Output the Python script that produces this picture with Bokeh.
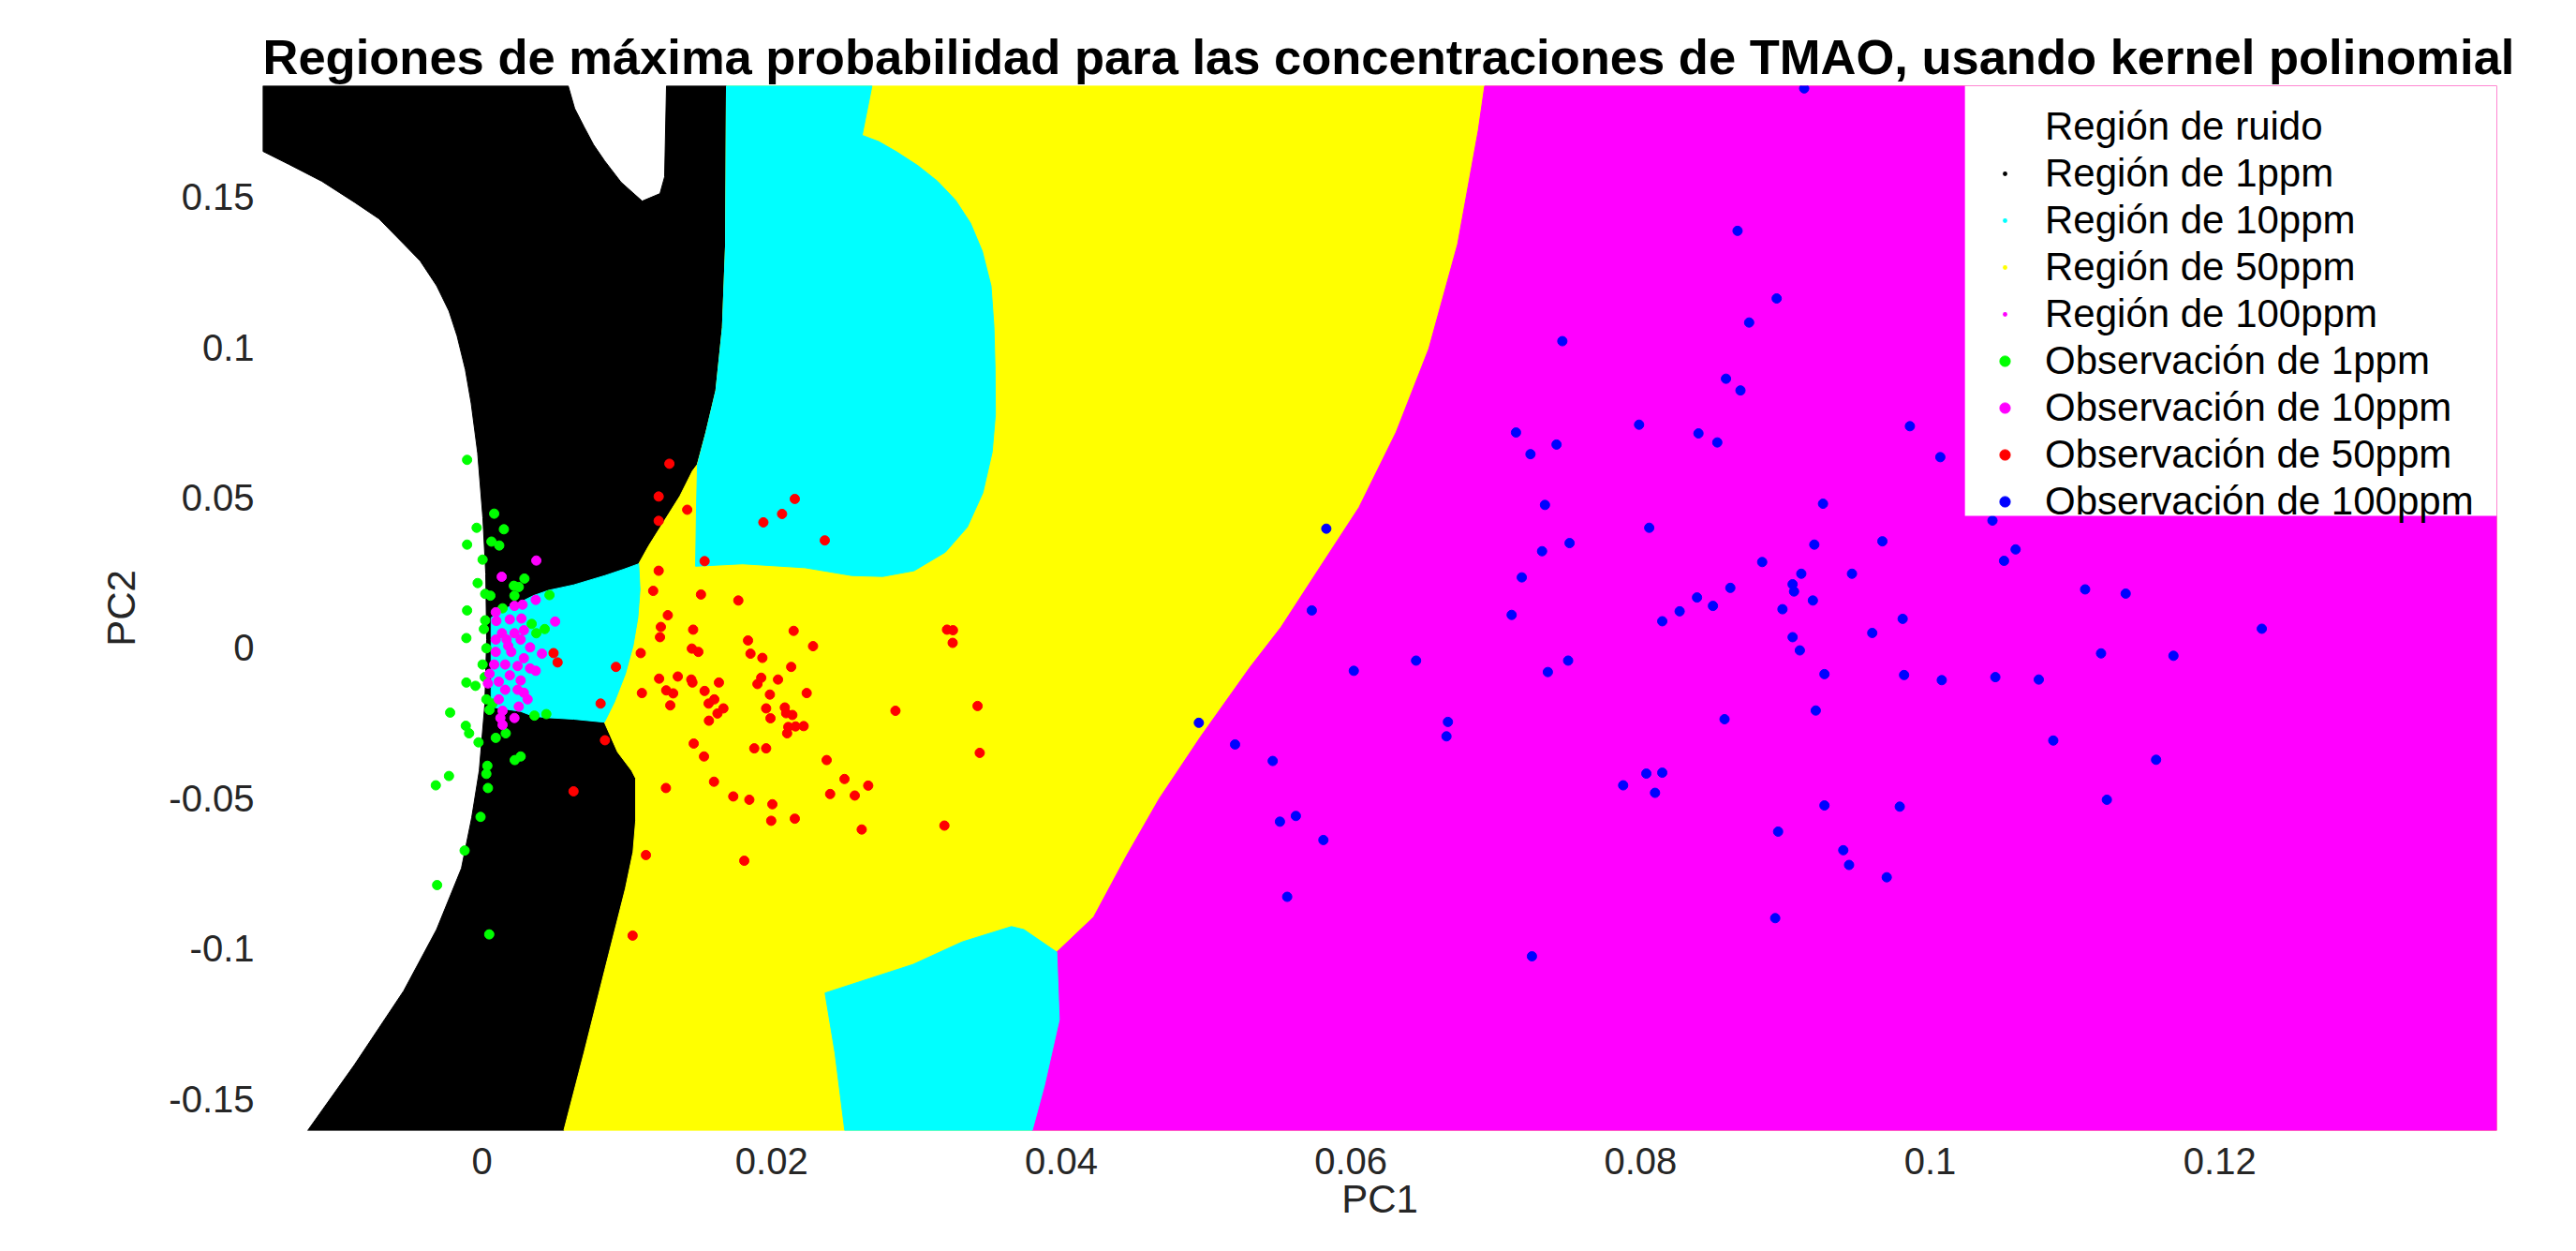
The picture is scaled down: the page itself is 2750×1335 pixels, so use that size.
from bokeh.plotting import figure
from bokeh.models import Range1d, FixedTicker, Legend, LegendItem, PrintfTickFormatter, BoxAnnotation
from bokeh.embed import file_html
from bokeh.resources import INLINE

FONT = "Liberation Sans"

title_text = "Regiones de máxima probabilidad para las concentraciones de TMAO, usando kernel polinomial"

# axis limits (PC1, PC2)
x_lim = [-0.01514, 0.13913]
y_lim = [-0.16059, 0.18709]

x_ticks = [0, 0.02, 0.04, 0.06, 0.08, 0.1, 0.12]
x_tick_labels = ["0", "0.02", "0.04", "0.06", "0.08", "0.1", "0.12"]
y_ticks = [-0.15, -0.1, -0.05, 0, 0.05, 0.1, 0.15]
y_tick_labels = ["-0.15", "-0.1", "-0.05", "0", "0.05", "0.1", "0.15"]

# area covered by the legend box (data units: left, bottom)
legend_box_left = 0.1024
legend_box_bottom = 0.0440

# boundary between noise region (white) and 1ppm region (black), top to bottom
noise_bx = [-0.01514, -0.01514, -0.01332, -0.01106, -0.00880, -0.00711, -0.00540, -0.00427,
            -0.00313, -0.00228, -0.00172, -0.00115, -0.00075, -0.00030, 0.00006, 0.00026,
            0.00032, 0.00019, -0.00019, -0.00071, -0.00142, -0.00314, -0.00541, -0.00881,
            -0.01204]
noise_by = [0.18709, 0.1653, 0.1609, 0.1553, 0.1483, 0.1428, 0.1344, 0.1288,
            0.1205, 0.1121, 0.1038, 0.0926, 0.0815, 0.0649, 0.0433, 0.0246,
            0.0028, -0.0190, -0.0408, -0.0564, -0.0733, -0.0937, -0.1141, -0.1387,
            -0.16059]

# white notch at the top of the 1ppm region
notch_x = [0.00595, 0.00640, 0.00705, 0.00770, 0.00847, 0.00960, 0.01106, 0.01229, 0.01261, 0.01274]
notch_y = [0.18709, 0.1795, 0.1734, 0.1675, 0.1621, 0.1550, 0.1487, 0.1512, 0.1568, 0.18709]

# right boundary of the 1ppm region (top to bottom)
r1_bx = [0.01688, 0.01682, 0.01660, 0.01615, 0.01546, 0.01486, 0.01453, 0.01367, 0.01259,
         0.01151, 0.01082, 0.01091, 0.01076, 0.01043, 0.00990, 0.00914, 0.00845, 0.00936,
         0.01033, 0.01061, 0.01061, 0.01043, 0.00990, 0.00847, 0.00705, 0.00565]
r1_by = [0.18709, 0.1344, 0.1066, 0.0857, 0.0717, 0.0610, 0.0589, 0.0506, 0.0423,
         0.0340, 0.0280, 0.0194, 0.0101, 0.0007, -0.0086, -0.0180, -0.0247, -0.0346,
         -0.0408, -0.0434, -0.0575, -0.0679, -0.0801, -0.1073, -0.1346, -0.16059]

# left boundary of the 100ppm region (top to bottom)
mag_bx = [0.06924, 0.06879, 0.06737, 0.06538, 0.06312, 0.06056, 0.05773, 0.05517, 0.05302,
          0.04961, 0.04677, 0.04450, 0.04224, 0.03969, 0.03986, 0.03884, 0.03799]
mag_by = [0.18709, 0.1721, 0.1344, 0.0996, 0.0718, 0.0468, 0.0259, 0.0069, -0.0065,
          -0.0296, -0.0501, -0.0692, -0.0895, -0.1012, -0.1237, -0.1455, -0.16059]

# 10ppm regions
cyan_top_x = [0.01688, 0.02693, 0.02625, 0.02740, 0.02863, 0.03010, 0.03146, 0.03270, 0.03373,
              0.03455, 0.03515, 0.03535, 0.03543, 0.03545, 0.03523, 0.03459, 0.03351, 0.03200,
              0.02984, 0.02768, 0.02553, 0.02230, 0.01798, 0.01475, 0.01481, 0.01488, 0.01546,
              0.01615, 0.01660, 0.01682]
cyan_top_y = [0.18709, 0.18709, 0.1706, 0.1685, 0.1651, 0.1605, 0.1553, 0.1490, 0.1414,
              0.1320, 0.1205, 0.1070, 0.0927, 0.0776, 0.0652, 0.0517, 0.0402, 0.0319,
              0.0257, 0.0238, 0.0241, 0.0267, 0.0280, 0.0272, 0.0465, 0.0610, 0.0717,
              0.0857, 0.1066, 0.1344]
cyan_left_x = [0.00063, 0.00138, 0.00267, 0.00354, 0.00461, 0.00634, 0.00849, 0.00979, 0.01082,
               0.01091, 0.01076, 0.01043, 0.00990, 0.00914, 0.00845, 0.00634, 0.00461, 0.00354,
               0.00267, 0.00116, 0.00063]
cyan_left_y = [0.0101, 0.0127, 0.0153, 0.0174, 0.0192, 0.0210, 0.0241, 0.0262, 0.0280,
               0.0194, 0.0101, 0.0007, -0.0086, -0.0180, -0.0247, -0.0237, -0.0232, -0.0227,
               -0.0211, -0.0200, -0.0196]
cyan_bot_x = [0.02369, 0.02976, 0.03316, 0.03656, 0.03742, 0.03969, 0.03986, 0.03884, 0.03799,
              0.02505, 0.02437]
cyan_bot_y = [-0.1148, -0.1053, -0.0978, -0.0927, -0.0937, -0.1012, -0.1237, -0.1455, -0.16059,
              -0.16059, -0.1346]

# observations 1ppm
obs1_x = [-0.00103, 0.00084, -0.00037, 0.00151, -0.00103, 0.00065, 0.00119, 0.00004, 0.00293,
          -0.00030, 0.00220, 0.00254, 0.00224, 0.00022, 0.00058, 0.00466, -0.00103, 0.00142,
          0.00022, 0.00013, 0.00343, 0.00433, 0.00375, -0.00108, 0.00030, 0.00004, -0.00108,
          -0.00045, 0.00019, 0.00030, 0.00073, 0.00052, -0.00220, 0.00362, 0.00444, -0.00112,
          -0.00089, -0.00024, 0.00095, 0.00164, 0.00226, 0.00267, 0.00037, 0.00030, -0.00228,
          -0.00319, 0.00041, -0.00010, -0.00120, -0.00310, 0.00050]
obs1_y = [0.0626, 0.0447, 0.0400, 0.0395, 0.0344, 0.0354, 0.0341, 0.0294, 0.0231,
          0.0216, 0.0207, 0.0203, 0.0174, 0.0180, 0.0174, 0.0176, 0.0125, 0.0132,
          0.0092, 0.0063, 0.0080, 0.0063, 0.0049, 0.0033, -0.0001, -0.0055, -0.0115,
          -0.0126, -0.0097, -0.0171, -0.0185, -0.0206, -0.0215, -0.0225, -0.0220, -0.0259,
          -0.0284, -0.0314, -0.0299, -0.0284, -0.0373, -0.0361, -0.0392, -0.0419, -0.0426,
          -0.0457, -0.0466, -0.0562, -0.0674, -0.0789, -0.0953]

# observations 10ppm
obs10_x = [0.00375, 0.00136, 0.00371, 0.00224, 0.00280, 0.00095, 0.00099, 0.00192, 0.00272,
           0.00505, 0.00138, 0.00224, 0.00289, 0.00170, 0.00267, 0.00332, 0.00095, 0.00202,
           0.00414, 0.00289, 0.00084, 0.00160, 0.00246, 0.00332, 0.00371, 0.00052, 0.00192,
           0.00116, 0.00267, 0.00041, 0.00160, 0.00246, 0.00289, 0.00116, 0.00315, 0.00254,
           0.00142, 0.00127, 0.00224, 0.00142, 0.00181, 0.00095]
obs10_y = [0.0291, 0.0237, 0.0160, 0.0140, 0.0144, 0.0119, 0.0090, 0.0095, 0.0098,
           0.0088, 0.0049, 0.0049, 0.0059, 0.0028, 0.0028, 0.0002, -0.0013, -0.0013,
           -0.0019, -0.0034, -0.0055, -0.0055, -0.0060, -0.0068, -0.0076, -0.0086, -0.0091,
           -0.0112, -0.0108, -0.0118, -0.0139, -0.0139, -0.0149, -0.0171, -0.0171, -0.0195,
           -0.0209, -0.0233, -0.0233, -0.0256, 0.0007, 0.0028]

# observations 50ppm
obs50_x = [0.01294, 0.01220, 0.01220, 0.01417, 0.02160, 0.02072, 0.01943, 0.02367, 0.01537, 0.01220,
           0.01182, 0.01512, 0.01770, 0.01283, 0.01235, 0.01229, 0.01458, 0.02152, 0.03211, 0.03252,
           0.03250, 0.01837, 0.02286, 0.01096, 0.01449, 0.01494, 0.01854, 0.01936, 0.02135, 0.00925,
           0.01223, 0.01352, 0.01445, 0.01453, 0.01636, 0.01928, 0.01902, 0.02044, 0.01104, 0.01272,
           0.01320, 0.01537, 0.01988, 0.02242, 0.01300, 0.01565, 0.01604, 0.01667, 0.01626, 0.01962,
           0.02091, 0.02100, 0.02143, 0.01992, 0.01567, 0.02855, 0.03422, 0.00819, 0.02115, 0.02165,
           0.02221, 0.02107, 0.00849, 0.01462, 0.01880, 0.01962, 0.01533, 0.02380, 0.03437, 0.02503,
           0.02667, 0.02404, 0.02574, 0.01602, 0.01270, 0.01735, 0.01846, 0.02005, 0.01997, 0.02160,
           0.02622, 0.03193, 0.00632, 0.01132, 0.01811, 0.00494, 0.00522, 0.01040]
obs50_y = [0.0613, 0.0504, 0.0423, 0.0460, 0.0496, 0.0446, 0.0418, 0.0358, 0.0289, 0.0257,
           0.0190, 0.0178, 0.0158, 0.0109, 0.0070, 0.0036, 0.0061, 0.0057, 0.0061, 0.0059,
           0.0017, 0.0025, 0.0006, -0.0017, -0.0002, -0.0013, -0.0019, -0.0033, -0.0063, -0.0063,
           -0.0102, -0.0095, -0.0105, -0.0115, -0.0115, -0.0099, -0.0120, -0.0105, -0.0150, -0.0141,
           -0.0151, -0.0143, -0.0155, -0.0150, -0.0191, -0.0185, -0.0171, -0.0201, -0.0218, -0.0201,
           -0.0198, -0.0217, -0.0223, -0.0234, -0.0242, -0.0209, -0.0193, -0.0185, -0.0263, -0.0261,
           -0.0260, -0.0284, -0.0307, -0.0318, -0.0334, -0.0334, -0.0361, -0.0373, -0.0349, -0.0436,
           -0.0458, -0.0486, -0.0491, -0.0445, -0.0466, -0.0494, -0.0505, -0.0520, -0.0575, -0.0568,
           -0.0604, -0.0591, -0.0477, -0.0689, -0.0708, -0.0017, -0.0048, -0.0957]

# observations 100ppm
obs100_x = [0.0913, 0.0867, 0.0894, 0.0875, 0.0746, 0.0859, 0.0869, 0.0799, 0.0986, 0.0714,
            0.0840, 0.0742, 0.0853, 0.0724, 0.1007, 0.0926, 0.0734, 0.0583, 0.0806, 0.1043,
            0.0920, 0.0967, 0.0751, 0.0732, 0.1059, 0.1051, 0.0884, 0.0911, 0.0946, 0.0718,
            0.0862, 0.0905, 0.0906, 0.1107, 0.1135, 0.0839, 0.0919, 0.0850, 0.0827, 0.0898,
            0.0573, 0.0815, 0.0711, 0.0981, 0.0960, 0.0905, 0.1229, 0.0910, 0.1118, 0.1168,
            0.0645, 0.0602, 0.0750, 0.0736, 0.0927, 0.0982, 0.1008, 0.1045, 0.1075, 0.0921,
            0.0858, 0.0667, 0.0666, 0.1085, 0.1156, 0.0788, 0.0804, 0.0815, 0.0810, 0.1122,
            0.0927, 0.0979, 0.0562, 0.0551, 0.0581, 0.0895, 0.0940, 0.0944, 0.0970, 0.0556,
            0.0893, 0.0725, 0.0495, 0.0520, 0.0546]
obs100_y = [0.1862, 0.1388, 0.1163, 0.1083, 0.1021, 0.0896, 0.0857, 0.0743, 0.0738, 0.0717,
            0.0714, 0.0677, 0.0684, 0.0645, 0.0635, 0.0480, 0.0476, 0.0397, 0.0400, 0.0424,
            0.0344, 0.0355, 0.0349, 0.0322, 0.0328, 0.0290, 0.0286, 0.0247, 0.0247, 0.0235,
            0.0200, 0.0212, 0.0188, 0.0195, 0.0181, 0.0168, 0.0158, 0.0140, 0.0122, 0.0129,
            0.0125, 0.0089, 0.0110, 0.0097, 0.0050, 0.0036, 0.0064, -0.0008, -0.0018, -0.0026,
            -0.0042, -0.0076, -0.0042, -0.0080, -0.0087, -0.0090, -0.0107, -0.0097, -0.0105, -0.0208,
            -0.0237, -0.0246, -0.0294, -0.0308, -0.0372, -0.0457, -0.0418, -0.0415, -0.0482, -0.0505,
            -0.0524, -0.0528, -0.0559, -0.0578, -0.0639, -0.0611, -0.0673, -0.0722, -0.0763, -0.0828,
            -0.0899, -0.1026, -0.0249, -0.0321, -0.0376]

region_labels = ["Región de ruido", "Región de 1ppm", "Región de 10ppm",
                 "Región de 50ppm", "Región de 100ppm"]
region_colors = ["#FFFFFF", "#000000", "#00FFFF", "#FFFF00", "#FF00FF"]
obs_labels = ["Observación de 1ppm", "Observación de 10ppm",
              "Observación de 50ppm", "Observación de 100ppm"]
obs_colors = ["#00FF00", "#FF00FF", "#FF0000", "#0000FF"]

FRAME_W, FRAME_H = 2385, 1115
p = figure(width=2730, height=1319, output_backend="svg", toolbar_location=None,
           x_range=Range1d(x_lim[0], x_lim[1]), y_range=Range1d(y_lim[0], y_lim[1]),
           min_border_left=280, min_border_right=65, min_border_top=91, min_border_bottom=113)
p.title.text = title_text
p.title.text_font = FONT
p.title.text_font_size = "52.5px"
p.title.text_font_style = "bold"
p.title.text_color = "#000000"
p.title.align = "left"
p.title.offset = 0
p.title.standoff = 3
p.outline_line_color = None
p.grid.visible = False
p.background_fill_color = "white"
p.border_fill_color = "white"

# regions (painted bottom to top)
black_x = notch_x + r1_bx + noise_bx[::-1]
black_y = notch_y + r1_by + noise_by[::-1]
yellow_x = r1_bx + [x_lim[1], x_lim[1]]
yellow_y = r1_by + [y_lim[0], y_lim[1]]
mag_x = mag_bx + [x_lim[1], x_lim[1]]
mag_y = mag_by + [y_lim[0], y_lim[1]]
cyan_x = cyan_top_x + cyan_left_x + cyan_bot_x
cyan_y = cyan_top_y + cyan_left_y + cyan_bot_y

# legend stand-ins for the regions (zero-size points on the region outlines)
region_outlines = [(noise_bx, noise_by), (black_x, black_y), (cyan_x, cyan_y),
                   (yellow_x, yellow_y), (mag_x, mag_y)]
region_proxies = [p.scatter(ox, oy, size=0, marker="circle", fill_color=c, line_color=None)
                  for (ox, oy), c in zip(region_outlines, region_colors)]

p.patch(black_x, black_y, fill_color=region_colors[1], line_color=region_colors[1], line_width=1)
p.patch(yellow_x, yellow_y, fill_color=region_colors[3], line_color=region_colors[3], line_width=1)
p.patch(mag_x, mag_y, fill_color=region_colors[4], line_color=region_colors[4], line_width=1)
for cx, cy in [(cyan_top_x, cyan_top_y), (cyan_left_x, cyan_left_y), (cyan_bot_x, cyan_bot_y)]:
    p.patch(cx, cy, fill_color=region_colors[2], line_color=region_colors[2], line_width=1)

obs_data = [(obs1_x, obs1_y), (obs10_x, obs10_y), (obs50_x, obs50_y), (obs100_x, obs100_y)]
obs_renderers = []
for (ox, oy), c in zip(obs_data, obs_colors):
    obs_renderers.append(p.scatter(ox, oy, size=10, marker="circle", fill_color=c, line_color=c))

# white legend box
p.add_layout(BoxAnnotation(left=legend_box_left, right=x_lim[1], bottom=legend_box_bottom,
                           top=y_lim[1], fill_color="white", fill_alpha=1.0, line_color=None))

PAD, GW, LH, SP, LW = 10, 86, 48, 2, 470
common = dict(margin=0, padding=PAD, spacing=SP, glyph_width=GW, label_height=LH,
              label_standoff=0, label_width=LW, label_text_font=FONT,
              label_text_font_size="42px", label_text_color="#000000",
              background_fill_alpha=0.0, border_line_color=None)
LEG_X = FRAME_W - 568
reg_leg_h = 2 * PAD + 5 * LH + 4 * SP
obs_leg_h = 2 * PAD + 4 * LH + 3 * SP
obs_top = 5 * (LH + SP)
legend_obs = Legend(items=[LegendItem(label=l, renderers=[r]) for l, r in zip(obs_labels, obs_renderers)],
                    location=(LEG_X, FRAME_H - obs_top - obs_leg_h), glyph_height=28, **common)
legend_reg = Legend(items=[LegendItem(label=l, renderers=[r]) for l, r in zip(region_labels, region_proxies)],
                    location=(LEG_X, FRAME_H - reg_leg_h), glyph_height=12, **common)
p.add_layout(legend_obs)
p.add_layout(legend_reg)

# axes
p.xaxis.ticker = FixedTicker(ticks=x_ticks)
p.xaxis.formatter = PrintfTickFormatter(format="%g")
p.xaxis.major_label_overrides = dict(zip(x_ticks, x_tick_labels))
p.yaxis.ticker = FixedTicker(ticks=y_ticks)
p.yaxis.formatter = PrintfTickFormatter(format="%g")
p.yaxis.major_label_overrides = dict(zip(y_ticks, y_tick_labels))
for ax in (p.xaxis[0], p.yaxis[0]):
    ax.axis_line_color = None
    ax.major_tick_line_color = None
    ax.minor_tick_line_color = None
    ax.major_tick_out = 0
    ax.major_tick_in = 0
    ax.minor_tick_out = 0
    ax.major_label_text_font = FONT
    ax.major_label_text_font_size = "40px"
    ax.major_label_text_color = "#262626"
    ax.axis_label_text_font = FONT
    ax.axis_label_text_font_size = "42px"
    ax.axis_label_text_font_style = "normal"
    ax.axis_label_text_color = "#262626"
p.xaxis.axis_label = "PC1"
p.xaxis.major_label_standoff = 18
p.xaxis.axis_label_standoff = 0
p.yaxis.axis_label = "PC2"
p.yaxis.major_label_standoff = 9
p.yaxis.axis_label_standoff = 24

html = file_html(p, INLINE, title="TMAO")
with open("out.html", "w", encoding="utf-8") as f:
    f.write(html)
